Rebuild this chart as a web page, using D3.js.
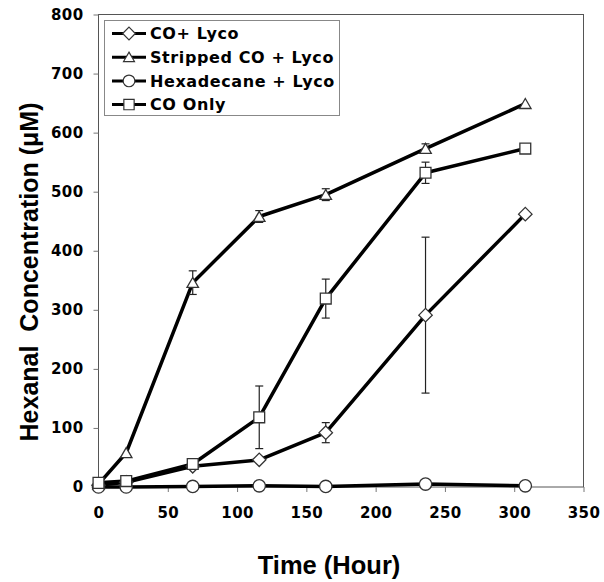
<!DOCTYPE html>
<html><head><meta charset="utf-8">
<script src="https://cdn.jsdelivr.net/npm/d3@7"></script>
<style>body{margin:0;background:#fff}</style>
</head><body>
<script>
const times = [0, 20, 68, 116, 164, 236, 308];
const seriesNames = ["CO+ Lyco", "Stripped CO + Lyco", "Hexadecane + Lyco", "CO Only"];
const seriesSymbols = ["diamond", "triangle", "circle", "square"];
const coLyco = [3, 8, 35, 46, 92, 291, 462];
const coLycoErr = [0, 0, 0, 0, 17, 132, 0];
const strippedLyco = [5, 58, 346, 458, 495, 573, 649];
const strippedLycoErr = [0, 0, 20, 10, 10, 8, 0];
const hexLyco = [0, 0, 1, 2, 1, 5, 2];
const hexLycoErr = [0, 0, 0, 0, 0, 0, 0];
const coOnly = [7, 10, 39, 118, 319, 532, 573];
const coOnlyErr = [0, 0, 0, 53, 33, 18, 0];
const yTicks = [0, 100, 200, 300, 400, 500, 600, 700, 800];
const xTicks = [0, 50, 100, 150, 200, 250, 300, 350];
const xTitle = "Time (Hour)";
const yTitle = "Hexanal\u00a0\u00a0Concentration (\u03bcM)";

const series = [
  {name: seriesNames[0], sym: seriesSymbols[0], v: coLyco, e: coLycoErr},
  {name: seriesNames[1], sym: seriesSymbols[1], v: strippedLyco, e: strippedLycoErr},
  {name: seriesNames[2], sym: seriesSymbols[2], v: hexLyco, e: hexLycoErr},
  {name: seriesNames[3], sym: seriesSymbols[3], v: coOnly, e: coOnlyErr}
];

const W = 604, H = 582;
const L = 98.5, R = 583.5, T = 14.5, B = 487;
const svg = d3.select("body").append("svg").attr("width", W).attr("height", H);
const x = d3.scaleLinear().domain([0, 350]).range([L, R]);
const y = d3.scaleLinear().domain([0, 800]).range([B, T]);

const tickFont = "'DejaVu Sans', Verdana, sans-serif";
const titleFont = "'Liberation Sans', Arial, sans-serif";

// frame
svg.append("rect").attr("x", L).attr("y", T).attr("width", R - L).attr("height", B - T)
  .attr("fill", "none").attr("stroke", "#555").attr("stroke-width", 1);

// axes
const yAxis = svg.append("g").attr("transform", `translate(${L},0)`)
  .call(d3.axisLeft(y).tickValues(yTicks).tickSize(5).tickPadding(10).tickFormat(d3.format("d")));
const xAxis = svg.append("g").attr("transform", `translate(0,${B})`)
  .call(d3.axisBottom(x).tickValues(xTicks).tickSize(5).tickPadding(15).tickFormat(d3.format("d")));
[yAxis, xAxis].forEach(a => {
  a.select(".domain").remove();
  a.selectAll("line").attr("stroke", "#777");
  a.selectAll("text").attr("font-family", tickFont).attr("font-weight", "bold")
    .attr("font-size", 15).attr("letter-spacing", 0.4).attr("fill", "#000");
});

// titles
svg.append("text").attr("x", 329).attr("y", 574).attr("text-anchor", "middle")
  .attr("font-family", titleFont).attr("font-weight", "bold").attr("font-size", 25.5).text(xTitle);
svg.append("text").attr("transform", "translate(38,272) rotate(-90)").attr("text-anchor", "middle")
  .attr("font-family", titleFont).attr("font-weight", "bold").attr("font-size", 25).text(yTitle);

const symMap = {diamond: d3.symbolDiamond2, triangle: d3.symbolTriangle2, circle: d3.symbolCircle, square: d3.symbolSquare2};
function symPath(s, size) {
  return d3.symbol().type(symMap[s]).size(size)();
}
const symSize = {diamond: 115, triangle: 95, circle: 120, square: 150};

const line = d3.line().x((d, i) => x(times[i])).y(d => y(d));
const g = svg.append("g");
series.forEach(s => {
  g.append("path").attr("d", line(s.v)).attr("fill", "none").attr("stroke", "#000").attr("stroke-width", 3.5)
    .attr("stroke-linejoin", "round");
});
series.forEach(s => {
  s.v.forEach((v, i) => {
    if (s.e[i] > 0) {
      const cx = x(times[i]);
      const eg = g.append("g").attr("stroke", "#222").attr("stroke-width", 1.2);
      eg.append("line").attr("x1", cx).attr("x2", cx).attr("y1", y(v - s.e[i])).attr("y2", y(v + s.e[i]));
      [v - s.e[i], v + s.e[i]].forEach(t => eg.append("line").attr("x1", cx - 4).attr("x2", cx + 4).attr("y1", y(t)).attr("y2", y(t)));
    }
  });
});
series.forEach(s => {
  s.v.forEach((v, i) => {
    const dy = s.sym === "triangle" ? 1.5 : 0;
    g.append("path").attr("d", symPath(s.sym, symSize[s.sym]))
      .attr("transform", `translate(${x(times[i])},${y(v) + dy})`)
      .attr("fill", "#fff").attr("stroke", "#333").attr("stroke-width", 1.3);
  });
});

// legend
const lg = svg.append("g");
lg.append("rect").attr("x", 104.5).attr("y", 20.5).attr("width", 235).attr("height", 95)
  .attr("fill", "#fff").attr("stroke", "#888").attr("stroke-width", 1);
series.forEach((s, i) => {
  const cy = 33.5 + i * 23.7;
  lg.append("line").attr("x1", 112).attr("x2", 146).attr("y1", cy).attr("y2", cy).attr("stroke", "#000").attr("stroke-width", 3);
  lg.append("path").attr("d", symPath(s.sym, symSize[s.sym] * 0.9))
    .attr("transform", `translate(129,${cy + (s.sym === "triangle" ? 1.2 : 0)})`)
    .attr("fill", "#fff").attr("stroke", "#333").attr("stroke-width", 1.2);
  lg.append("text").attr("x", 150).attr("y", cy).attr("dy", "0.36em")
    .attr("font-family", tickFont).attr("font-weight", "bold").attr("font-size", 16)
    .attr("letter-spacing", 0.6).text(s.name);
});
</script>
</body></html>
